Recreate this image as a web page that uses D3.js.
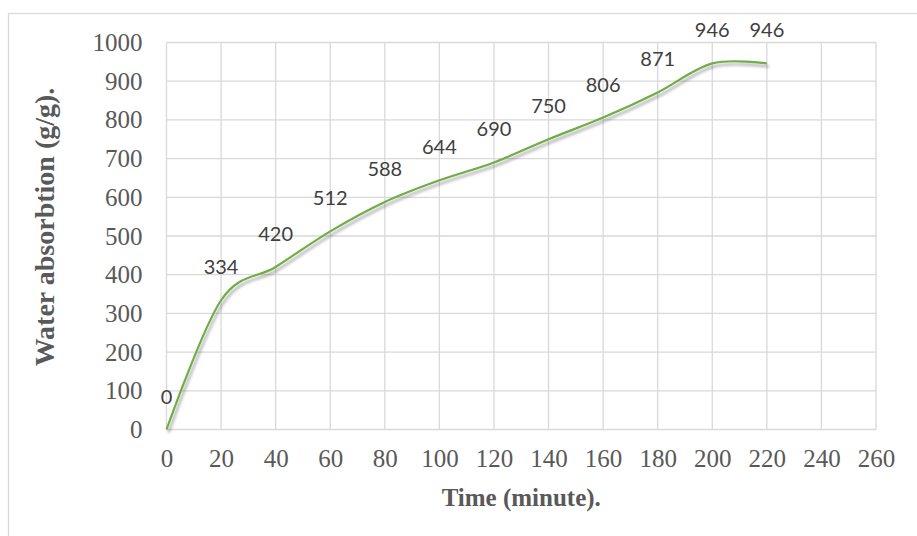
<!DOCTYPE html>
<html><head><meta charset="utf-8">
<script src="https://cdn.jsdelivr.net/npm/d3@7"></script>
<style>body{margin:0;background:#fff}</style>
</head><body>
<svg id="c" width="917" height="536"></svg>
<script>
const times = [0,20,40,60,80,100,120,140,160,180,200,220];
const absorption = [0,334,420,512,588,644,690,750,806,871,946,946];
const xTicks = [0,20,40,60,80,100,120,140,160,180,200,220,240,260];
const yTicks = [0,100,200,300,400,500,600,700,800,900,1000];
const xTitle = "Time (minute).";
const yTitle = "Water absorbtion (g/g).";

const svg = d3.select("#c");
const L=166.5, R=876, T=42.5, B=429.5;
const x = d3.scaleLinear().domain([0,260]).range([L,R]);
const y = d3.scaleLinear().domain([0,1000]).range([B,T]);

svg.append("rect").attr("x",8.5).attr("y",13.5).attr("width",940).attr("height",540)
  .attr("fill","none").attr("stroke","#d9d9d9").attr("stroke-width",1.3);

const defs = svg.append("defs");
const f = defs.append("filter").attr("id","sh").attr("x","-10%").attr("y","-10%").attr("width","130%").attr("height","130%");
f.append("feGaussianBlur").attr("in","SourceAlpha").attr("stdDeviation",1.8).attr("result","b");
f.append("feOffset").attr("in","b").attr("dx",2).attr("dy",3).attr("result","o");
f.append("feComponentTransfer").attr("in","o").attr("result","o2")
  .append("feFuncA").attr("type","linear").attr("slope",0.35);
const m = f.append("feMerge");
m.append("feMergeNode").attr("in","o2");
m.append("feMergeNode").attr("in","SourceGraphic");

// grid
const g = svg.append("g");
g.selectAll(".hx").data(xTicks).join("line")
  .attr("x1",d=>x(d)).attr("x2",d=>x(d)).attr("y1",T).attr("y2",B)
  .attr("stroke","#d9d9d9").attr("stroke-width",1.3);
g.selectAll(".hy").data(yTicks).join("line")
  .attr("x1",L).attr("x2",R).attr("y1",d=>y(d)).attr("y2",d=>y(d))
  .attr("stroke","#d9d9d9").attr("stroke-width",1.3);

// axes
const xa = svg.append("g").attr("transform",`translate(0,${B})`)
  .call(d3.axisBottom(x).tickValues(xTicks).tickFormat(d3.format("d")).tickSize(0).tickPadding(20));
const ya = svg.append("g").attr("transform",`translate(${L},0)`)
  .call(d3.axisLeft(y).tickValues(yTicks).tickFormat(d3.format("d")).tickSize(0).tickPadding(24));
[xa,ya].forEach(a=>{
  a.select(".domain").remove();
  a.selectAll("text").attr("font-family","'Liberation Serif','Times New Roman',serif")
    .attr("font-size",25).attr("fill","#595959");
});

// line
const data = times.map((t,i)=>({t,v:absorption[i]}));
const line = d3.line().x(d=>x(d.t)).y(d=>y(d.v)).curve(d3.curveCatmullRom.alpha(0));
svg.append("path").datum(data).attr("d",line).attr("fill","none")
  .attr("stroke","#70ad47").attr("stroke-width",2.2).attr("filter","url(#sh)");

// labels
svg.selectAll(".lbl").data(data).join("text")
  .attr("x",d=>x(d.t)).attr("y",d=>y(d.v)-26)
  .attr("text-anchor","middle")
  .attr("font-family","Lato, 'Open Sans', sans-serif").attr("font-size",20)
  .attr("fill","#404040").text(d=>d.v);

// titles
svg.append("text").attr("x",(L+R)/2).attr("y",506).attr("text-anchor","middle")
  .attr("font-family","'Liberation Serif','Times New Roman',serif").attr("font-weight","bold")
  .attr("font-size",25).attr("fill","#595959").text(xTitle);
svg.append("text").attr("transform",`translate(54,227) rotate(-90)`).attr("text-anchor","middle")
  .attr("font-family","'Liberation Serif','Times New Roman',serif").attr("font-weight","bold")
  .attr("font-size",28).attr("fill","#595959").text(yTitle);
</script>
</body></html>
